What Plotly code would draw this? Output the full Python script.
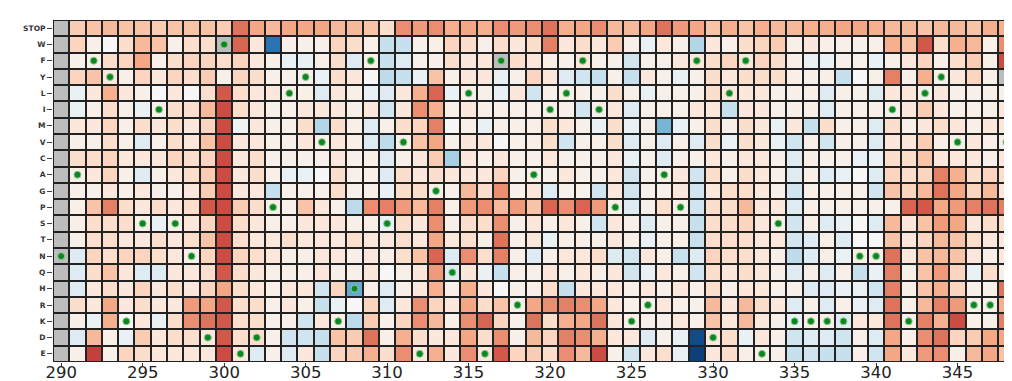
import plotly.graph_objects as go

positions = list(range(290, 350))
residues = ["STOP", "W", "F", "Y", "L", "I", "M", "V", "C", "A", "G",
            "P", "S", "T", "N", "Q", "H", "R", "K", "D", "E"]
wild_type = ["N", "A", "F", "Y", "K", "S", "I", "S", "N", "D", "W", "E", "D",
             "P", "L", "Y", "V", "K", "H", "F", "S", "V", "E", "G", "Q", "L", "E", "F",
             "R", "A", "I", "L", "F", "I", "P", "K", "R", "A", "P", "F", "D", "L", "F",
             "E", "S", "K", "K", "K", "K", "N", "N", "I", "K", "L", "Y", "V", "R", "R", "V",
             "F"]

N = None
row_STOP = [N, 0.25, 0.3, 0.35, 0.3, 0.3, 0.25, 0.3, 0.3, 0.3, 0.25, 0.65, 0.45,
            0.35, 0.45, 0.45, 0.45, 0.35, 0.35, 0.3, 0.15, 0.55, 0.5, 0.55, 0.4, 0.45, 0.4, 0.55,
            0.5, 0.55, 0.65, 0.4, 0.45, 0.55, 0.35, 0.35, 0.45, 0.65, 0.5, 0.45, 0.3, 0.4, 0.3,
            0.4, 0.35, 0.35, 0.4, 0.4, 0.45, 0.45, 0.4, 0.35, 0.35, 0.3, 0.35, 0.35, 0.3, 0.4, 0.4,
            0.4]
row_W = [N, 0.2, 0.05, 0.0, 0.15, 0.35, 0.3, 0.05, 0.15, 0.15, N, 0.7, 0.1,
         -0.85, 0.05, 0.05, 0.05, 0.2, 0.15, 0.05, -0.2, -0.2, 0.05, 0.05, 0.2, 0.15, 0.05, 0.15,
         0.1, 0.15, 0.6, 0.1, 0.15, 0.1, 0.25, 0.05, -0.05, 0.1, 0.05, -0.3, 0.1, 0.05, 0.15,
         0.2, 0.25, 0.05, 0.1, 0.05, 0.05, 0.05, 0.05, 0.4, 0.3, 0.75, 0.15, 0.4, 0.35, 0.05, 0.55,
         0.35]
row_F = [N, 0.05, 0.05, 0.15, 0.2, 0.45, 0.05, 0.15, 0.2, 0.2, 0.15, 0.2, 0.1,
         0.05, -0.05, -0.05, 0.05, 0.15, -0.1, 0.05, -0.2, -0.1, 0.05, 0.05, 0.15, 0.1, 0.1, N,
         0.15, 0.1, 0.05, 0.05, 0.1, 0.05, 0.05, -0.15, 0.05, 0.05, 0.1, 0.1, 0.15, 0.2, 0.1,
         0.2, 0.15, 0.05, -0.05, -0.05, 0.05, 0.05, -0.05, 0.05, 0.1, 0.2, 0.05, 0.15, 0.25, 0.05, 0.8,
         0.0]
row_Y = [N, 0.2, 0.3, 0.1, 0.05, 0.2, 0.1, 0.2, 0.15, 0.25, 0.05, 0.2, 0.15,
         0.05, 0.05, 0.05, -0.05, 0.15, 0.1, 0.0, -0.25, -0.2, -0.05, 0.3, 0.05, 0.1, 0.1, -0.05,
         0.05, 0.2, 0.1, -0.1, -0.15, -0.2, 0.05, -0.2, 0.1, 0.05, -0.05, 0.05, 0.15, 0.1, 0.15,
         0.15, 0.15, 0.05, 0.05, 0.05, -0.2, 0.0, 0.05, 0.6, 0.05, 0.4, 0.05, 0.1, 0.2, 0.05, N,
         0.05]
row_L = [N, -0.05, 0.1, 0.4, 0.1, 0.05, 0.0, 0.1, 0.0, 0.15, 0.75, 0.15, 0.1,
         0.1, 0.05, 0.05, -0.1, 0.1, 0.05, -0.05, -0.1, 0.1, 0.4, 0.7, -0.05, 0.05, 0.05, -0.05,
         0.1, -0.15, 0.05, 0.05, 0.05, 0.05, 0.15, 0.05, -0.05, 0.05, 0.05, 0.05, 0.15, 0.1, 0.1,
         0.1, 0.05, 0.05, 0.05, -0.1, 0.05, 0.05, -0.1, 0.1, 0.1, 0.05, 0.1, 0.05, 0.05, 0.05, 0.05,
         0.1]
row_I = [N, -0.05, 0.05, 0.15, 0.05, -0.05, 0.05, 0.15, 0.15, 0.35, 0.8, 0.15, 0.1,
         0.05, 0.05, 0.1, 0.1, 0.1, 0.05, 0.1, -0.15, 0.1, 0.55, 0.4, 0.05, 0.1, 0.05, 0.05,
         0.05, 0.05, 0.05, 0.05, -0.15, 0.05, 0.1, -0.1, 0.05, 0.05, 0.05, 0.1, 0.1, -0.2, 0.1,
         0.1, 0.05, 0.05, 0.05, -0.1, 0.05, 0.05, 0.05, 0.05, 0.1, 0.25, 0.1, 0.05, 0.05, 0.05, 0.1,
         0.1]
row_M = [N, 0.1, 0.1, 0.2, 0.05, 0.15, 0.1, 0.15, 0.1, 0.2, 0.8, -0.03, 0.1,
         0.05, 0.05, 0.15, -0.3, 0.15, 0.05, -0.1, 0.05, 0.15, 0.2, 0.6, 0.0, 0.05, -0.05, 0.05,
         0.05, 0.05, 0.15, 0.1, 0.05, -0.05, 0.15, -0.05, 0.05, -0.55, -0.05, 0.05, 0.15, 0.05, 0.15,
         0.1, -0.05, 0.1, -0.2, 0.15, 0.05, 0.05, -0.1, 0.15, 0.05, 0.1, 0.15, 0.1, 0.05, 0.1, 0.1,
         0.1]
row_V = [N, 0.05, 0.05, 0.15, 0.05, -0.1, 0.05, 0.15, 0.1, 0.3, 0.8, 0.1, 0.1,
         0.05, 0.05, 0.1, 0.05, 0.1, 0.05, -0.1, -0.25, 0.05, 0.3, 0.45, 0.05, 0.1, 0.1, 0.0,
         0.05, 0.05, 0.15, -0.15, 0.05, 0.05, 0.15, -0.1, 0.05, -0.1, 0.05, -0.1, 0.15, -0.05, 0.15,
         0.1, -0.05, -0.15, 0.05, -0.15, 0.05, 0.05, -0.1, 0.1, 0.1, 0.25, 0.05, 0.05, 0.1, 0.05, 0.05,
         0.3]
row_C = [N, 0.15, 0.15, 0.2, 0.1, 0.1, 0.1, 0.2, 0.15, 0.2, 0.8, 0.1, 0.15,
         0.05, 0.05, 0.05, 0.05, 0.1, 0.05, 0.05, -0.1, 0.05, 0.1, 0.25, -0.35, 0.1, 0.05, 0.1,
         0.05, 0.05, 0.1, 0.05, 0.05, 0.05, 0.1, -0.05, 0.05, -0.1, 0.05, 0.05, 0.1, 0.05, 0.1,
         0.1, 0.05, -0.1, 0.05, 0.05, 0.05, -0.05, -0.05, 0.15, 0.15, 0.3, 0.1, 0.1, 0.1, 0.05, 0.1,
         0.15]
row_A = [N, 0.05, 0.1, 0.2, 0.05, -0.1, 0.05, 0.1, 0.15, 0.25, 0.8, 0.1, 0.15,
         0.05, -0.05, -0.05, 0.0, 0.15, 0.05, 0.05, -0.1, 0.15, 0.1, 0.15, 0.1, 0.1, 0.1, 0.2,
         0.05, 0.05, 0.05, 0.1, 0.05, 0.05, 0.1, -0.15, 0.05, 0.05, 0.1, -0.15, 0.15, 0.05, 0.15,
         0.1, 0.05, -0.1, 0.05, -0.1, -0.05, 0.0, -0.1, 0.2, 0.15, 0.2, 0.6, 0.4, 0.15, 0.2, 0.15,
         0.45]
row_G = [N, 0.05, 0.05, 0.1, 0.05, 0.1, 0.05, 0.05, 0.1, 0.25, 0.8, 0.1, 0.1,
         -0.2, 0.05, 0.05, 0.05, 0.15, 0.05, 0.05, -0.05, 0.15, 0.15, 0.05, 0.05, 0.35, 0.15, 0.55,
         0.05, 0.1, -0.1, 0.05, 0.05, -0.15, 0.1, -0.15, 0.05, 0.05, 0.1, -0.15, 0.1, 0.15, 0.15,
         0.1, 0.05, -0.15, 0.05, 0.05, 0.05, 0.05, -0.15, 0.3, 0.2, 0.35, 0.65, 0.45, 0.2, 0.35, 0.1,
         0.35]
row_P = [N, 0.05, 0.3, 0.6, 0.15, 0.1, 0.15, 0.1, 0.15, 0.75, 0.8, 0.25, 0.15,
         0.05, 0.05, 0.3, 0.1, 0.05, -0.25, 0.55, 0.6, 0.5, 0.35, 0.6, 0.05, 0.5, 0.55, 0.35,
         0.5, 0.3, 0.7, 0.55, 0.7, 0.5, 0.05, -0.1, 0.05, 0.15, 0.05, -0.15, 0.15, 0.15, 0.35,
         0.1, 0.1, -0.1, 0.05, 0.05, 0.05, 0.05, 0.05, 0.05, 0.7, 0.75, 0.45, 0.5, 0.6, 0.65, 0.6,
         0.55]
row_S = [N, 0.05, 0.15, 0.15, 0.15, 0.05, -0.05, 0.05, 0.1, 0.2, 0.8, 0.15, 0.1,
         0.05, 0.05, 0.1, 0.1, 0.1, 0.05, 0.05, -0.05, 0.15, 0.1, 0.55, 0.05, 0.15, 0.15, 0.55,
         0.05, 0.1, 0.05, 0.1, 0.05, -0.15, 0.1, 0.05, -0.1, 0.05, 0.05, -0.2, 0.15, 0.15, 0.2,
         0.1, 0.05, -0.15, 0.05, -0.1, -0.05, 0.0, -0.1, 0.35, 0.1, 0.3, 0.5, 0.45, 0.1, 0.15, 0.15,
         0.3]
row_T = [N, 0.05, 0.15, 0.15, 0.1, 0.1, 0.15, 0.1, 0.15, 0.3, 0.8, 0.15, 0.1,
         0.1, 0.15, 0.1, 0.1, 0.1, 0.15, 0.1, 0.1, 0.15, 0.1, 0.45, 0.1, 0.15, 0.05, 0.65,
         0.05, 0.1, -0.05, 0.05, 0.05, 0.05, 0.1, 0.05, -0.05, 0.05, 0.05, -0.2, 0.15, 0.15, 0.15,
         0.1, 0.1, -0.15, -0.1, 0.05, -0.1, 0.0, 0.0, 0.3, 0.1, 0.2, 0.35, 0.3, 0.15, 0.1, 0.1,
         0.15]
row_N = [N, -0.1, 0.2, 0.15, 0.2, 0.2, 0.15, 0.1, 0.05, 0.2, 0.8, 0.2, 0.15,
         0.1, 0.05, 0.05, 0.1, 0.1, 0.05, 0.1, 0.05, 0.15, 0.3, 0.7, -0.1, 0.55, 0.15, 0.6,
         0.05, -0.1, 0.05, 0.1, 0.1, 0.15, -0.1, -0.15, 0.1, 0.05, -0.2, -0.1, 0.2, 0.15, 0.15,
         0.1, 0.05, -0.25, -0.1, 0.05, -0.05, 0.05, 0.05, 0.65, 0.1, 0.3, 0.35, 0.3, 0.1, 0.05, 0.1,
         0.2]
row_Q = [N, -0.1, 0.15, 0.3, 0.1, -0.1, -0.1, 0.1, 0.1, 0.15, 0.75, 0.15, 0.1,
         0.05, 0.05, 0.05, 0.1, 0.05, 0.05, 0.1, 0.0, 0.05, 0.1, 0.5, -0.1, 0.1, -0.05, -0.2,
         0.05, 0.05, 0.1, 0.05, 0.1, 0.05, 0.1, -0.15, -0.05, 0.1, 0.05, -0.15, 0.15, 0.1, 0.15,
         0.1, 0.05, -0.1, 0.05, -0.1, 0.05, -0.2, -0.05, 0.6, 0.05, 0.3, 0.5, 0.2, -0.05, 0.15, 0.05,
         0.15]
row_H = [N, -0.1, 0.1, 0.15, 0.1, 0.2, 0.1, 0.15, 0.1, 0.2, 0.45, 0.15, 0.1,
         0.05, 0.1, 0.1, -0.15, 0.2, -0.6, 0.05, -0.1, 0.05, 0.1, 0.4, 0.05, 0.4, 0.1, 0.0,
         0.05, 0.05, 0.15, -0.2, 0.1, 0.1, 0.1, 0.05, 0.1, 0.05, 0.1, 0.05, 0.15, 0.05, 0.1,
         0.1, 0.05, 0.05, -0.1, -0.1, -0.05, -0.05, -0.15, 0.6, 0.05, 0.3, 0.4, 0.2, 0.05, 0.05, 0.65,
         0.2]
row_R = [N, 0.15, 0.1, 0.45, 0.1, 0.15, 0.1, 0.1, 0.5, 0.45, 0.75, 0.15, 0.15,
         0.05, 0.1, 0.05, -0.2, -0.05, 0.0, 0.2, -0.1, 0.1, 0.55, 0.2, 0.1, 0.45, 0.15, 0.3,
         0.05, 0.45, 0.55, 0.6, 0.55, 0.45, 0.1, 0.05, 0.05, 0.1, 0.05, 0.05, 0.35, 0.1, 0.35,
         0.15, 0.1, -0.1, 0.05, -0.1, 0.05, -0.05, -0.1, 0.65, 0.05, 0.35, 0.6, 0.5, 0.05, 0.05, 0.4,
         0.45]
row_K = [N, 0.05, -0.05, 0.4, 0.0, 0.1, -0.05, 0.15, 0.55, 0.65, 0.75, 0.15, 0.15,
         0.05, 0.05, -0.15, 0.1, 0.05, -0.25, 0.25, 0.05, 0.2, 0.55, 0.35, 0.05, 0.55, 0.7, 0.2,
         0.05, 0.65, 0.15, 0.4, 0.45, 0.65, 0.1, 0.05, 0.05, 0.05, 0.1, 0.05, 0.3, 0.1, 0.35,
         0.1, 0.05, -0.05, 0.05, 0.05, -0.1, 0.1, 0.1, 0.65, 0.05, 0.6, 0.4, 0.8, 0.05, 0.05, 0.6,
         0.3]
row_D = [N, -0.1, 0.35, 0.05, -0.05, 0.25, 0.1, 0.15, 0.15, 0.1, 0.75, 0.15, 0.15,
         0.05, -0.15, -0.15, -0.2, 0.3, 0.25, 0.65, 0.05, 0.4, 0.15, 0.1, 0.1, 0.45, 0.15, 0.55,
         0.05, 0.35, 0.2, 0.6, 0.55, 0.4, 0.1, 0.1, -0.1, 0.05, -0.05, -0.95, 0.1, 0.15, -0.05,
         0.1, 0.05, -0.15, -0.1, -0.1, -0.15, 0.05, -0.1, 0.45, 0.05, 0.55, 0.65, 0.2, 0.25, 0.45, 0.45,
         0.3]
row_E = [N, 0.05, 0.85, 0.05, 0.2, 0.15, 0.1, 0.1, 0.1, 0.1, 0.8, 0.1, -0.1,
         0.05, -0.1, 0.1, -0.2, 0.2, 0.25, 0.4, 0.15, 0.55, 0.1, 0.4, 0.1, 0.55, 0.1, 0.75,
         0.2, 0.25, 0.15, 0.55, 0.35, 0.8, 0.05, -0.15, 0.1, 0.15, -0.05, -0.97, 0.1, 0.15, 0.05,
         0.05, 0.05, -0.2, -0.15, -0.2, -0.2, 0.05, -0.15, 0.45, 0.1, 0.5, 0.55, 0.05, 0.35, 0.45, 0.3,
         0.2]

z = [row_STOP, row_W, row_F, row_Y, row_L, row_I, row_M, row_V, row_C, row_A, row_G,
     row_P, row_S, row_T, row_N, row_Q, row_H, row_R, row_K, row_D, row_E]

# grey mask for missing cells
z_missing = [[1 if v is None else None for v in row] for row in z]

# RdBu_r colours, stretched so that small changes away from zero show
diverging = [
    [0.0, "#053061"], [0.05, "#2166ac"], [0.14, "#4393c3"], [0.27, "#92c5de"],
    [0.425, "#d1e5f0"], [0.5, "#f7f7f7"], [0.585, "#fddbc7"], [0.73, "#f4a582"],
    [0.86, "#d6604d"], [1.0, "#b2182b"],
]

fig = go.Figure()
fig.add_trace(go.Heatmap(
    x=positions, y=residues, z=z, colorscale=diverging, zmin=-1, zmax=1,
    xgap=2, ygap=2, showscale=False, hoverongaps=False,
))
fig.add_trace(go.Heatmap(
    x=positions, y=residues, z=z_missing,
    colorscale=[[0, "#bdbdbd"], [1, "#bdbdbd"]], zmin=0, zmax=1,
    xgap=2, ygap=2, showscale=False, hoverongaps=False,
))
fig.add_trace(go.Scatter(
    x=positions, y=wild_type, mode="markers",
    marker=dict(size=7, color="#0f8424", line=dict(width=1, color="#86d08a")),
    showlegend=False, hoverinfo="skip",
))

fig.update_layout(
    width=1012, height=381,
    margin=dict(l=45, r=0, t=12, b=27),
    plot_bgcolor="#222222", paper_bgcolor="white",
    showlegend=False,
)
fig.update_xaxes(
    range=[289.5, 348.83], tickmode="array", tickvals=list(range(290, 350, 5)),
    ticks="outside", ticklen=4, tickcolor="#333", tickwidth=1,
    ticklabelstandoff=-9,
    tickfont=dict(family="DejaVu Sans", size=16.5, color="#222"),
    showgrid=False, zeroline=False, showline=False,
)
fig.update_yaxes(
    categoryorder="array", categoryarray=residues, range=[20.5, -0.5],
    ticks="outside", ticklen=5, tickcolor="#444", tickwidth=1,
    tickfont=dict(family="DejaVu Sans", size=7.5, color="#333", weight="bold"),
    showgrid=False, zeroline=False, showline=False,
)

fig.write_html("out.html")
